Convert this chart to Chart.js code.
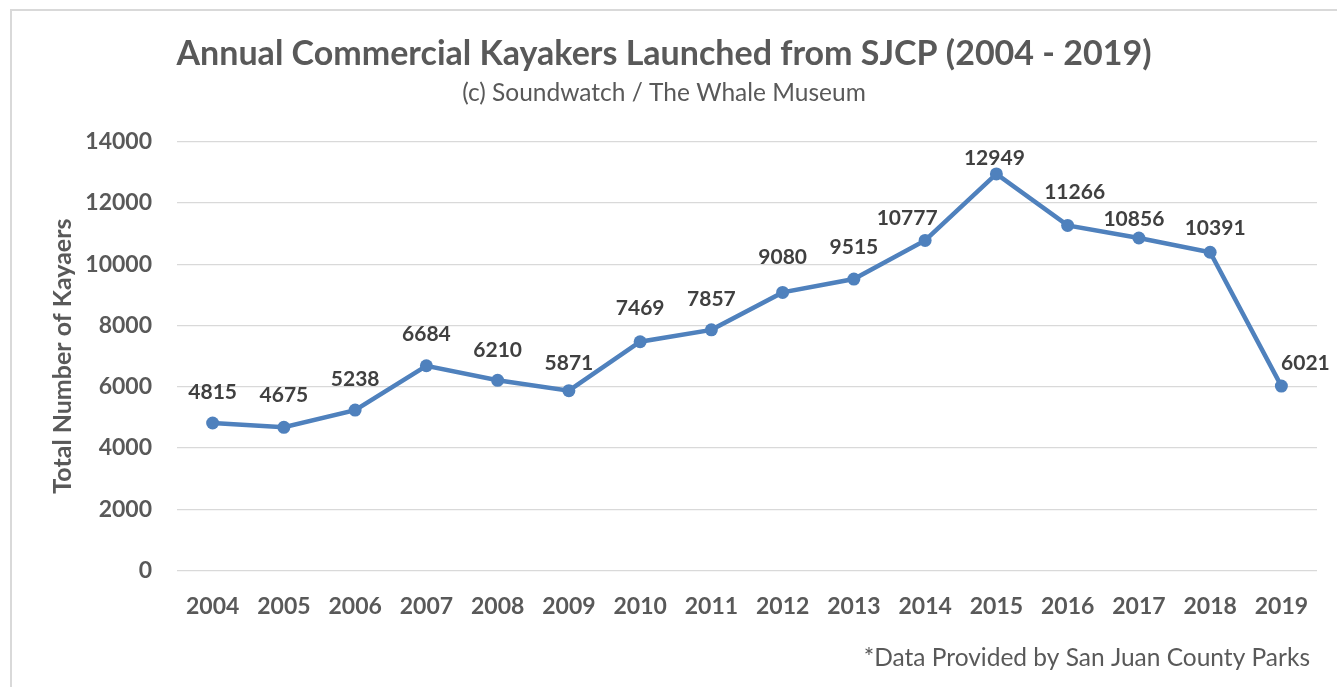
<!DOCTYPE html>
<html>
<head>
<meta charset="utf-8">
<script src="https://cdn.jsdelivr.net/npm/chart.js@4.4.1/dist/chart.umd.min.js"></script>
<style>
  html, body { margin: 0; padding: 0; background: #ffffff; overflow: hidden; }
  #frame { position: absolute; left: 10px; top: 9px; width: 1334px; height: 700px; border: 2px solid #d9d9d9; box-sizing: border-box; }
  #wrap { position: absolute; left: 11px; top: 10px; width: 1334px; height: 690px; }
</style>
</head>
<body>
<div id="frame"></div>
<div id="wrap"><canvas id="c"></canvas></div>
<script>
const years = ['2004','2005','2006','2007','2008','2009','2010','2011','2012','2013','2014','2015','2016','2017','2018','2019'];
const kayakers = [4815, 4675, 5238, 6684, 6210, 5871, 7469, 7857, 9080, 9515, 10777, 12949, 11266, 10856, 10391, 6021];
const yTicks = [0, 2000, 4000, 6000, 8000, 10000, 12000, 14000];
const titleText = 'Annual Commercial Kayakers Launched from SJCP (2004 - 2019)';
const subtitleText = '(c) Soundwatch / The Whale Museum';
const yTitleText = 'Total Number of Kayaers';
const footnoteText = '*Data Provided by San Juan County Parks';

const FONT = 'Lato';

const dataLabels = {
  id: 'dataLabels',
  afterDatasetsDraw(chart, args, opts) {
    const ctx = chart.ctx;
    const meta = chart.getDatasetMeta(0);
    ctx.save();
    ctx.font = 'bold ' + opts.size + 'px ' + FONT;
    ctx.fillStyle = opts.color;
    ctx.textAlign = 'center';
    ctx.textBaseline = 'middle';
    meta.data.forEach((pt, i) => {
      const sh = opts.shift[i] || opts.defaultShift;
      ctx.fillText(String(chart.data.datasets[0].data[i]), pt.x + sh[0], pt.y + sh[1]);
    });
    ctx.restore();
  }
};

const footnote = {
  id: 'footnote',
  afterDraw(chart, args, opts) {
    const ctx = chart.ctx;
    ctx.save();
    ctx.font = opts.size + 'px ' + FONT;
    ctx.fillStyle = opts.color;
    ctx.textAlign = 'right';
    ctx.textBaseline = 'middle';
    ctx.fillText(opts.text, opts.x, opts.y);
    ctx.restore();
  }
};

function build() {
  new Chart(document.getElementById('c'), {
    type: 'line',
    data: {
      labels: years,
      datasets: [{
        data: kayakers,
        borderColor: '#4f81bd',
        backgroundColor: '#4f81bd',
        borderWidth: 4.5,
        pointRadius: 6.5,
        pointHoverRadius: 6.5,
        pointBackgroundColor: '#4f81bd',
        pointBorderColor: '#4f81bd',
        pointBorderWidth: 0,
        tension: 0,
        fill: false
      }]
    },
    options: {
      responsive: true,
      maintainAspectRatio: false,
      animation: false,
      layout: { padding: { left: 0, right: 28, top: 0, bottom: 0 } },
      plugins: {
        legend: { display: false },
        tooltip: { enabled: false },
        title: {
          display: true,
          text: titleText,
          color: '#595959',
          font: { family: FONT, size: 34, weight: 'bold', lineHeight: 1.2 },
          padding: { top: 24, bottom: 0 }
        },
        subtitle: {
          display: true,
          text: subtitleText,
          color: '#595959',
          font: { family: FONT, size: 24.5, weight: 'normal', lineHeight: 1.2 },
          padding: { top: 3.5, bottom: 34 }
        },
        dataLabels: {
          size: 21,
          color: '#404040',
          defaultShift: [0, -31],
          shift: {
            1: [0, -32], 3: [0, -32], 4: [0, -30], 5: [0, -27], 6: [0, -34], 8: [0, -35], 9: [0, -32],
            10: [-18, -22], 11: [-2, -16], 12: [7, -33], 13: [-5, -19], 14: [5, -24], 15: [24, -23]
          }
        },
        footnote: { text: footnoteText, size: 24.5, color: '#595959', x: 1299, y: 648 }
      },
      scales: {
        x: {
          type: 'category',
          offset: true,
          grid: { display: false, drawTicks: false },
          border: { display: false },
          ticks: {
            color: '#595959',
            font: { family: FONT, size: 23, weight: 'bold' },
            padding: 22,
            maxRotation: 0,
            autoSkip: false
          },
          afterFit(scale) { scale.height = 690 - 560.5; }
        },
        y: {
          min: 0,
          max: 14000,
          afterBuildTicks(scale) { scale.ticks = yTicks.map(v => ({ value: v })); },
          grid: { color: '#d9d9d9', lineWidth: 1.3, drawTicks: false },
          border: { display: false },
          ticks: {
            color: '#595959',
            font: { family: FONT, size: 23, weight: 'bold' },
            padding: 25,
            callback: (v) => String(v)
          },
          title: {
            display: true,
            text: yTitleText,
            color: '#595959',
            font: { family: FONT, size: 25, weight: 'bold', lineHeight: 1.2 },
            padding: { top: 37, bottom: 0 }
          },
          afterFit(scale) { scale.width = 166; }
        }
      }
    },
    plugins: [dataLabels, footnote]
  });
}

Promise.all([
  document.fonts.load('bold 32px Lato'),
  document.fonts.load('22px Lato')
]).then(build, build);
</script>
</body>
</html>
